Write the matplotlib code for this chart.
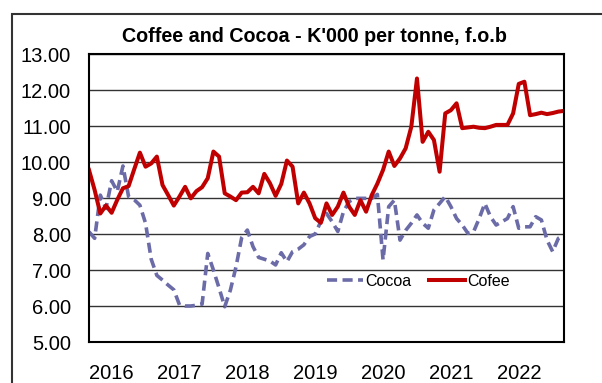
import matplotlib
matplotlib.use("Agg")
import matplotlib.pyplot as plt
from matplotlib.patches import Rectangle

plt.rcParams['font.family'] = ['Liberation Sans', 'DejaVu Sans']

# monthly prices, K'000 per tonne (Sep 2015 - Sep 2022)
years = ['2016', '2017', '2018', '2019', '2020', '2021', '2022']
year_pos = [4, 16, 28, 40, 52, 64, 76]

cocoa = [8.06, 7.88, 9.08, 8.71, 9.48, 9.18, 9.89, 9.04, 8.95, 8.80,
         8.30, 7.30, 6.85, 6.72, 6.58, 6.45, 6.03, 6.00, 6.00, 6.02,
         6.05, 7.46, 7.00, 6.50, 5.98, 6.44, 7.09, 7.90, 8.11, 7.65,
         7.35, 7.30, 7.25, 7.14, 7.48, 7.23, 7.51, 7.58, 7.70, 7.93,
         8.00, 8.35, 8.57, 8.34, 8.07, 8.62, 8.90, 8.99, 8.99, 8.99,
         8.99, 9.10, 7.28, 8.76, 8.94, 7.83, 8.10, 8.30, 8.53, 8.30,
         8.16, 8.67, 8.85, 9.04, 8.76, 8.43, 8.25, 8.02, 8.06, 8.43,
         8.85, 8.48, 8.25, 8.34, 8.43, 8.76, 8.16, 8.20, 8.20, 8.48,
         8.39, 7.83, 7.51, 7.88, 7.97]

coffee = [9.78, 9.22, 8.57, 8.79, 8.59, 8.95, 9.27, 9.33, 9.80, 10.26,
          9.87, 9.96, 10.15, 9.36, 9.08, 8.79, 9.04, 9.31, 8.99, 9.19,
          9.30, 9.55, 10.29, 10.15, 9.13, 9.04, 8.94, 9.15, 9.16, 9.31,
          9.13, 9.67, 9.41, 9.06, 9.39, 10.04, 9.87, 8.85, 9.15, 8.85,
          8.44, 8.31, 8.85, 8.53, 8.76, 9.15, 8.76, 8.53, 8.94, 8.62,
          9.08, 9.40, 9.78, 10.29, 9.89, 10.10, 10.38, 10.98, 12.32, 10.56,
          10.84, 10.61, 9.73, 11.35, 11.44, 11.63, 10.94, 10.96, 10.98, 10.95,
          10.94, 10.98, 11.03, 11.03, 11.03, 11.35, 12.17, 12.23, 11.30, 11.33,
          11.37, 11.33, 11.36, 11.40, 11.42]

x = list(range(len(coffee)))

fig = plt.figure(figsize=(6.02, 3.83), dpi=100)
ax = fig.add_axes([89 / 602, 41 / 383, 475 / 602, 288 / 383])

ax.plot(x, cocoa, color='#6B6BA8', lw=2.6, dashes=(2.8, 1.5), label='Cocoa')
ax.plot(x, coffee, color='#C00000', lw=2.9, label='Cofee')

ax.set_ylim(5, 13)
ax.set_xlim(0, len(coffee) - 1)
ax.set_yticks([5, 6, 7, 8, 9, 10, 11, 12, 13])
ax.set_yticklabels(['%.2f' % v for v in ax.get_yticks()])
ax.set_xticks(year_pos)
ax.set_xticklabels(years)
ax.tick_params(length=0, labelsize=14.5, colors='black')
ax.tick_params(axis='y', pad=13)
ax.tick_params(axis='x', pad=16)
ax.grid(axis='y', color='#333333', lw=1)
ax.set_axisbelow(True)
for s in ax.spines.values():
    s.set_linewidth(1.5)
    s.set_color('black')

ax.legend(loc='center left', bbox_to_anchor=(0.5, 0.21), ncol=2, frameon=False,
          fontsize=11.5, handlelength=2.3, handletextpad=0.1, columnspacing=1.1,
          borderpad=0, borderaxespad=0)

fig.text(0.523, 1 - 36 / 383, "Coffee and Cocoa - K'000 per tonne, f.o.b",
         ha='center', va='center', fontsize=14.2, fontweight='bold')

# outer frame, only top and left edges fall inside the canvas
fig.patches.append(Rectangle((12 / 602, -0.2), 1.2, 1.2 - 14 / 383,
                             transform=fig.transFigure, fill=False,
                             lw=1.5, edgecolor='#333333'))

fig.savefig('out.png', dpi=100)
